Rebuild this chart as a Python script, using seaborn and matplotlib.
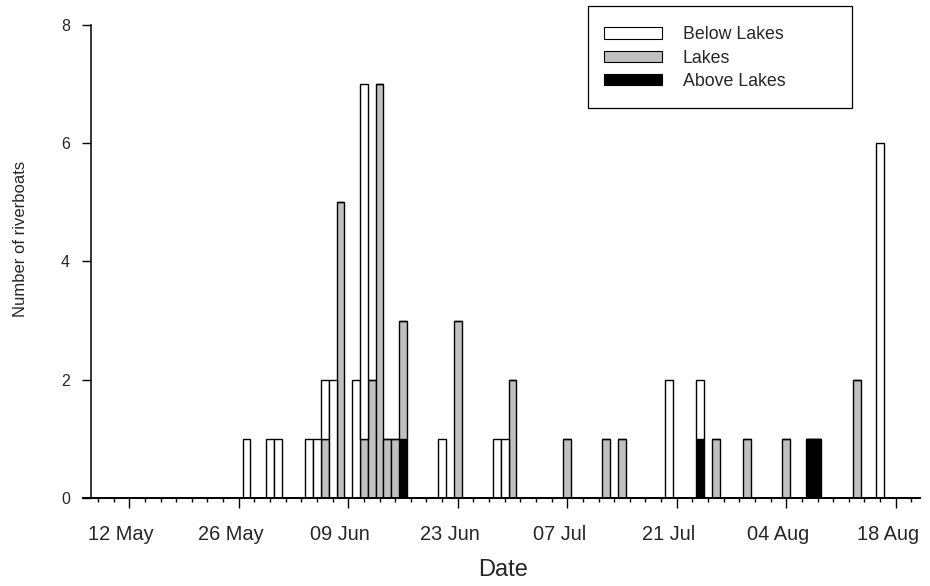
import numpy as np
import pandas as pd
import matplotlib
matplotlib.use("Agg")
import matplotlib.pyplot as plt
import matplotlib.dates as mdates
import matplotlib.transforms as mtransforms
from matplotlib.patches import Patch, Rectangle
from matplotlib.ticker import FixedLocator
import seaborn as sns

# Daily riverboat counts by river section (season of 2001)
dates = ["2001-05-27", "2001-05-30", "2001-05-31", "2001-06-04", "2001-06-05",
         "2001-06-06", "2001-06-07", "2001-06-08", "2001-06-10", "2001-06-11",
         "2001-06-12", "2001-06-13", "2001-06-14", "2001-06-15", "2001-06-16",
         "2001-06-21", "2001-06-23", "2001-06-28", "2001-06-29", "2001-06-30",
         "2001-07-07", "2001-07-12", "2001-07-14", "2001-07-20", "2001-07-24",
         "2001-07-26", "2001-07-30", "2001-08-04", "2001-08-07", "2001-08-08",
         "2001-08-13", "2001-08-16"]
below_lakes = [1, 1, 1, 1, 1, 1, 2, 0, 2, 6, 0, 0, 0, 0, 0, 1, 0, 1, 1, 0,
               0, 0, 0, 2, 1, 0, 0, 0, 0, 0, 0, 6]
lakes = [0, 0, 0, 0, 0, 1, 0, 5, 0, 1, 2, 7, 1, 1, 2, 0, 3, 0, 0, 2,
         1, 1, 1, 0, 0, 1, 1, 1, 0, 0, 2, 0]
above_lakes = [0, 0, 0, 0, 0, 0, 0, 0, 0, 0, 0, 0, 0, 0, 1, 0, 0, 0, 0, 0,
               0, 0, 0, 0, 1, 0, 0, 0, 1, 1, 0, 0]

sections = ["Below Lakes", "Lakes", "Above Lakes"]
colors = {"Below Lakes": "#ffffff", "Lakes": "#c0c0c0", "Above Lakes": "#000000"}

day = mdates.date2num(pd.to_datetime(dates).to_pydatetime())
df = pd.concat([
    pd.DataFrame({"day": day, "section": name, "n": vals})
    for name, vals in zip(sections, [below_lakes, lakes, above_lakes])
], ignore_index=True)

sns.set_style("ticks")
plt.rcParams["font.family"] = ["Liberation Sans", "DejaVu Sans"]

W, H = 930, 586
fig = plt.figure(figsize=(W / 100, H / 100), dpi=100)
ax_l, ax_r, ax_t, ax_b = 82.7, 920.0, 24.7, 498.0
ax = fig.add_axes([ax_l / W, 1 - ax_b / H, (ax_r - ax_l) / W, (ax_b - ax_t) / H])

# stacked daily bars: first hue level ends on top of the stack
sns.histplot(data=df, x="day", hue="section", weights="n", hue_order=sections,
             multiple="stack", discrete=True, palette=colors, alpha=1,
             edgecolor="black", linewidth=1.0, legend=False, ax=ax)

d12may = mdates.date2num(pd.Timestamp("2001-05-12").to_pydatetime())
d18aug = mdates.date2num(pd.Timestamp("2001-08-18").to_pydatetime())
ax.set_xlim(d12may - 5.95, d18aug + 3.1)
ax.set_ylim(0, 8)

ax.xaxis.set_major_locator(FixedLocator(np.arange(d12may, d18aug + 1, 14)))
ax.xaxis.set_minor_locator(FixedLocator(np.arange(d12may - 4, d18aug + 3, 2)))
ax.xaxis.set_major_formatter(mdates.DateFormatter("%d %b"))
ax.set_yticks([0, 2, 4, 6, 8])

for s in ["top", "right"]:
    ax.spines[s].set_visible(False)
ax.spines["left"].set_position(("data", d12may - 4.94))
ax.spines["left"].set_linewidth(1.1)
ax.spines["bottom"].set_linewidth(1.4)
ax.spines["left"].set_color("black")
ax.spines["bottom"].set_color("black")

ax.tick_params(axis="x", which="major", direction="out", length=7.2, width=1.0,
               labelsize=14.4, pad=12, color="black")
ax.tick_params(axis="x", which="minor", direction="out", length=2.9, width=1.0,
               color="black")
ax.tick_params(axis="y", which="major", direction="out", length=6.5, width=1.0,
               labelsize=11.5, pad=8.5, color="black")

# date labels sit slightly left of their ticks
shift = mtransforms.ScaledTranslation(-8 / 100, 0, fig.dpi_scale_trans)
for lbl in ax.get_xticklabels():
    lbl.set_transform(lbl.get_transform() + shift)

ax.set_xlabel("Date", fontsize=17)
ax.xaxis.set_label_coords((503.5 - ax_l) / (ax_r - ax_l), (ax_b - 559.5) / (ax_b - ax_t))
ax.set_ylabel("Number of riverboats", fontsize=12)
ax.yaxis.set_label_coords((28.5 - ax_l) / (ax_r - ax_l), (ax_b - 238.5) / (ax_b - ax_t))

# legend frame
fig.add_artist(Rectangle((588 / W, 1 - 108 / H), (852 - 588) / W, (108 - 6) / H,
                         transform=fig.transFigure, facecolor="none",
                         edgecolor="black", linewidth=0.9, zorder=4))
handles = [Patch(facecolor=colors[s], edgecolor="black", linewidth=0.8, label=s)
           for s in sections]
leg = ax.legend(handles=handles, loc="upper left",
                bbox_to_anchor=(604 / W, 1 - 26.3 / H),
                bbox_transform=fig.transFigure, borderaxespad=0, borderpad=0,
                fontsize=12.8, handlelength=3.26, handleheight=0.62,
                handletextpad=1.18, labelspacing=0.35, frameon=False)

fig.savefig("out.png", dpi=100)
